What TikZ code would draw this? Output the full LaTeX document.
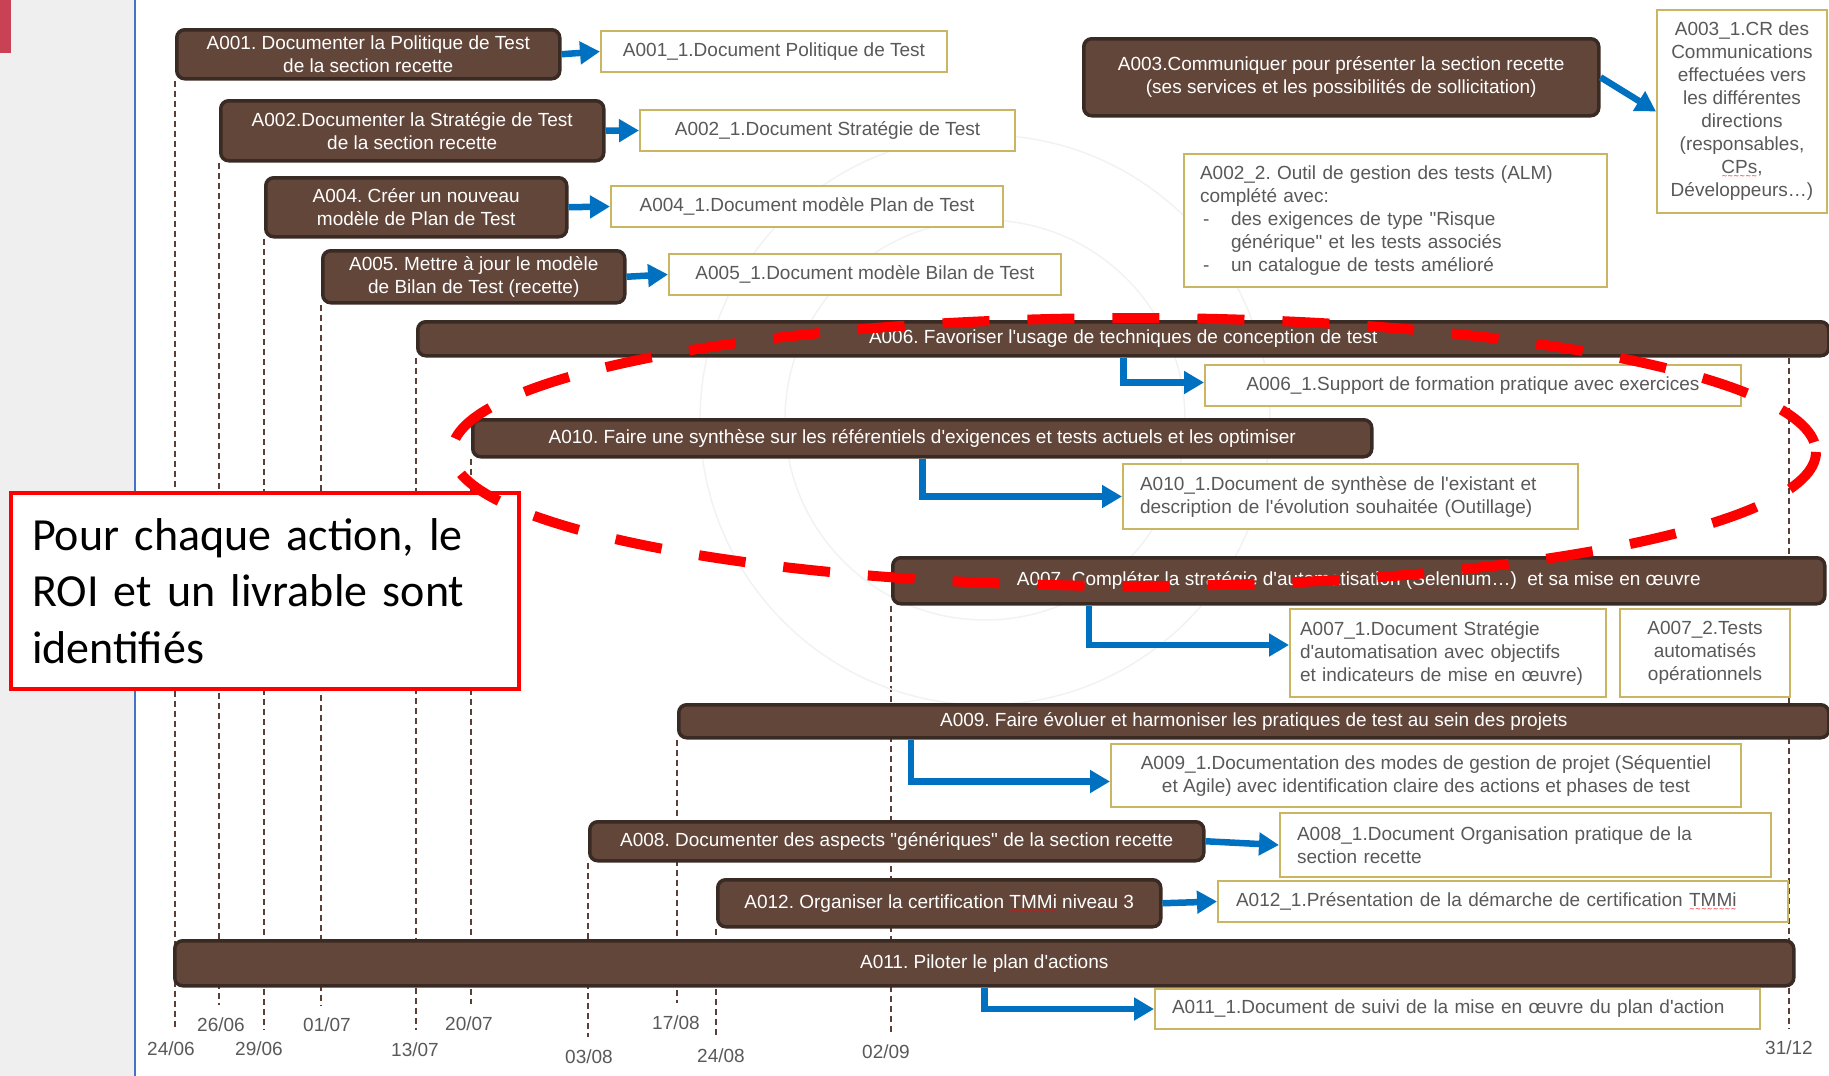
\documentclass[tikz,border=0pt]{standalone}
\usepackage{fontspec}
\newfontfamily\arial{Liberation Sans}
\newfontfamily\calibri{Carlito}
\newfontfamily\vague{DejaVu Sans}
\usetikzlibrary{arrows.meta,backgrounds}

\definecolor{brunfond}{RGB}{99,70,58}
\definecolor{brunbord}{RGB}{58,42,36}
\definecolor{brunjalon}{RGB}{91,64,55}
\definecolor{bleufleche}{RGB}{0,112,192}
\definecolor{orlivrable}{RGB}{201,181,98}
\definecolor{gristexte}{RGB}{89,89,89}
\definecolor{grispanneau}{RGB}{239,239,239}
\definecolor{bleutrait}{RGB}{68,114,196}
\definecolor{rougemarque}{RGB}{200,65,85}

\frenchspacing
\newcommand\petit{\arial\fontsize{19}{23}\selectfont}
% soulignement ondule rouge (correcteur)
\newcommand\faute[1]{\leavevmode\setbox0\hbox{#1}%
  \rlap{\smash{\lower5pt\hbox to\wd0{\color{red}\vague\fontsize{7}{7}\selectfont\xleaders\hbox{\char`\~}\hfill}}}\box0\relax}

\tikzset{
  action/.style={draw=brunbord, fill=brunfond, line width=3.5pt, rounded corners=8pt,
    text=white, align=center, inner sep=0pt, anchor=north west},
  livrable/.style={draw=orlivrable, fill=white, line width=2pt, text=gristexte,
    inner sep=0pt, anchor=north west},
  fleche/.style={draw=bleufleche, line width=6.5pt, -{Triangle[length=20pt,width=22pt]}},
  jalon/.style={draw=brunjalon, line width=1.5pt, dash pattern=on 6pt off 4pt, shorten >=13pt},
  jour/.style={text=gristexte, inner sep=0pt},
  bulle/.style={draw=red, line width=4pt, fill=white, text=black, align=left,
    font=\calibri\fontsize{46}{56.5}\selectfont, anchor=north west},
}

\begin{document}
\begin{tikzpicture}[x=1pt, y=-1pt, font=\petit]
    \useasboundingbox (0,0) rectangle (1829,1076);
    \fill[grispanneau] (0,0) rectangle (134,1076);
    \draw[bleutrait, line width=2pt] (135,0) -- (135,1076);
    \fill[rougemarque] (0,0) rectangle (11,53);
    \draw[black!5, line width=1.5pt] (985,420) circle [radius=200];
    \draw[black!5, line width=1.5pt] (985,420) circle [radius=285];

    % actions
    \node[action, minimum width=383, minimum height=49] (a001) at (175,28) {A001. Documenter la Politique de Test\\de la section recette};
    \node[action, minimum width=383, minimum height=60] (a002) at (219,99) {A002.Documenter la Stratégie de Test\\de la section recette};
    \node[action, minimum width=301, minimum height=59] (a004) at (264,176) {A004. Créer un nouveau\\modèle de Plan de Test};
    \node[action, minimum width=302, minimum height=52] (a005) at (321,249) {A005. Mettre à jour le modèle\\de Bilan de Test (recette)};
    \node[action, minimum width=515, minimum height=77] (a003) at (1082,37) {A003.Communiquer pour présenter la section recette\\(ses services et les possibilités de sollicitation)};
    \node[action, minimum width=1411, minimum height=34] (a006) at (416,320) {A006. Favoriser l'usage de techniques de conception de test};
    \node[action, minimum width=899, minimum height=37] (a010) at (471,418) {A010. Faire une synthèse sur les référentiels d'exigences et tests actuels et les optimiser};
    \node[action, minimum width=932, minimum height=46] (a007) at (891,556) {A007. Compléter la stratégie d'automatisation (\faute{Selenium}…)\ \ et sa mise en œuvre};
    \node[action, minimum width=1150, minimum height=33] (a009) at (677,703) {A009. Faire évoluer et harmoniser les pratiques de test au sein des projets};
    \node[action, minimum width=614, minimum height=39] (a008) at (588,820) {A008. Documenter des aspects "génériques" de la section recette};
    \node[action, minimum width=443, minimum height=47] (a012) at (716,878) {A012. Organiser la certification \faute{TMMi} niveau 3};
    \node[action, minimum width=1619, minimum height=45] (a011) at (173,939) {A011. Piloter le plan d'actions};

    % livrables
    \node[livrable, minimum width=346, minimum height=41] (l001) at (600,30) {A001\_1.Document Politique de Test};
    \node[livrable, minimum width=375, minimum height=41] (l002) at (639,109) {A002\_1.Document Stratégie de Test};
    \node[livrable, minimum width=392, minimum height=41] (l004) at (610,185) {A004\_1.Document modèle Plan de Test};
    \node[livrable, minimum width=392, minimum height=41] (l005) at (668,253) {A005\_1.Document modèle Bilan de Test};
    \node[livrable, minimum width=170, minimum height=203, align=center] (l003) at (1656,9) {A003\_1.CR des\\Communications\\effectuées vers\\les différentes\\directions\\(responsables,\\\faute{CPs},\\Développeurs…)};
    \node[livrable, minimum height=133, inner xsep=16pt, text width=391pt, align=left] (l0022) at (1183,153) {A002\_2. Outil de gestion des tests (ALM)\\complété avec:\\\makebox[31pt][l]{\hspace{3pt}-}des exigences de type "Risque\\\hspace*{31pt}générique" et les tests associés\\\makebox[31pt][l]{\hspace{3pt}-}un catalogue de tests amélioré};
    \node[livrable, minimum width=536, minimum height=41] (l006) at (1204,364) {A006\_1.Support de formation pratique avec exercices};
    \node[livrable, minimum height=65, inner xsep=17pt, text width=421pt, align=left] (l010) at (1122,463) {A010\_1.Document de synthèse de l'existant et\\description de l'évolution souhaitée (Outillage)};
    \node[livrable, minimum height=88, inner xsep=10pt, text width=296pt, align=left] (l0071) at (1289,608) {A007\_1.Document Stratégie\\d'automatisation avec objectifs\\et indicateurs de mise en œuvre)};
    \node[livrable, minimum width=170, minimum height=88, align=center] (l0072) at (1619,608) {A007\_2.Tests\\automatisés\\opérationnels};
    \node[livrable, minimum width=630, minimum height=63, align=center] (l009) at (1110,743) {A009\_1.Documentation des modes de gestion de projet (Séquentiel\\et Agile) avec identification claire des actions et phases de test};
    \node[livrable, minimum height=64, inner xsep=17pt, text width=457pt, align=left] (l008) at (1279,812) {A008\_1.Document Organisation pratique de la\\section recette};
    \node[livrable, minimum height=41, inner xsep=18pt, text width=534pt, align=left] (l012) at (1217,880) {A012\_1.Présentation de la démarche de certification \faute{TMMi}};
    \node[livrable, minimum height=40, inner xsep=17pt, text width=571pt, align=left] (l011) at (1154,988) {A011\_1.Document de suivi de la mise en œuvre du plan d'action};

    % fleches
    \draw[fleche] (a001.east) -- (l001.west);
    \draw[fleche] (a002.east) -- (l002.west);
    \draw[fleche] (a004.east) -- (l004.west);
    \draw[fleche] (a005.east) -- (l005.west);
    \draw[fleche] (a003.east) -- (l003.west);
    \draw[fleche] (a006.south) |- ([yshift=3pt]l006.west);
    \draw[fleche] (a010.south) |- (l010.west);
    \draw[fleche] ([xshift=-270pt]a007.south) |- ([yshift=8pt]l0071.west);
    \draw[fleche] ([xshift=-343pt]a009.south) |- ([yshift=-6pt]l009.west);
    \draw[fleche] (a008.east) -- (l008.west);
    \draw[fleche] (a012.east) -- (l012.west);
    \draw[fleche] (a011.south) |- (l011.west);

    % dates
    \node[jour] (d2406) at (171,1049) {24/06};
    \node[jour] (d2606) at (221,1025) {26/06};
    \node[jour] (d2906) at (259,1049) {29/06};
    \node[jour] (d0107) at (327,1025) {01/07};
    \node[jour] (d1307) at (415,1050) {13/07};
    \node[jour] (d2007) at (469,1024) {20/07};
    \node[jour] (d0308) at (589,1057) {03/08};
    \node[jour] (d1708) at (676,1023) {17/08};
    \node[jour] (d2408) at (721,1056) {24/08};
    \node[jour] (d0209) at (886,1052) {02/09};
    \node[jour] (d3112) at (1789,1048) {31/12};

    \begin{scope}[on background layer]
        \draw[jalon] (a001.south west) -- (a001.south west |- d2406.north);
        \draw[jalon] (a002.south west) -- (a002.south west |- d2606.north);
        \draw[jalon] (a004.south west) -- (a004.south west |- d2906.north);
        \draw[jalon] (a005.south west) -- (a005.south west |- d0107.north);
        \draw[jalon] (a006.south west) -- (a006.south west |- d1307.north);
        \draw[jalon] (a010.south west) -- (a010.south west |- d2007.north);
        \draw[jalon] (a008.south west) -- (a008.south west |- d0308.north);
        \draw[jalon] (a009.south west) -- (a009.south west |- d1708.north);
        \draw[jalon] (a012.south west) -- (a012.south west |- d2408.north);
        \draw[jalon] (a007.south west) -- (a007.south west |- d0209.north);
        \draw[jalon] (d3112 |- a006.south) -- (d3112.north);
    \end{scope}

    \node[bulle, minimum width=508, minimum height=196, inner xsep=21pt, inner ysep=0pt, text width=466pt] (roi) at (9,491) {Pour chaque action, le\\ROI et un livrable sont\\identifiés};

    \draw[red, line width=10pt, dash pattern=on 47pt off 38pt] (1134,452) ellipse [x radius=682, y radius=134];
\end{tikzpicture}
\end{document}
